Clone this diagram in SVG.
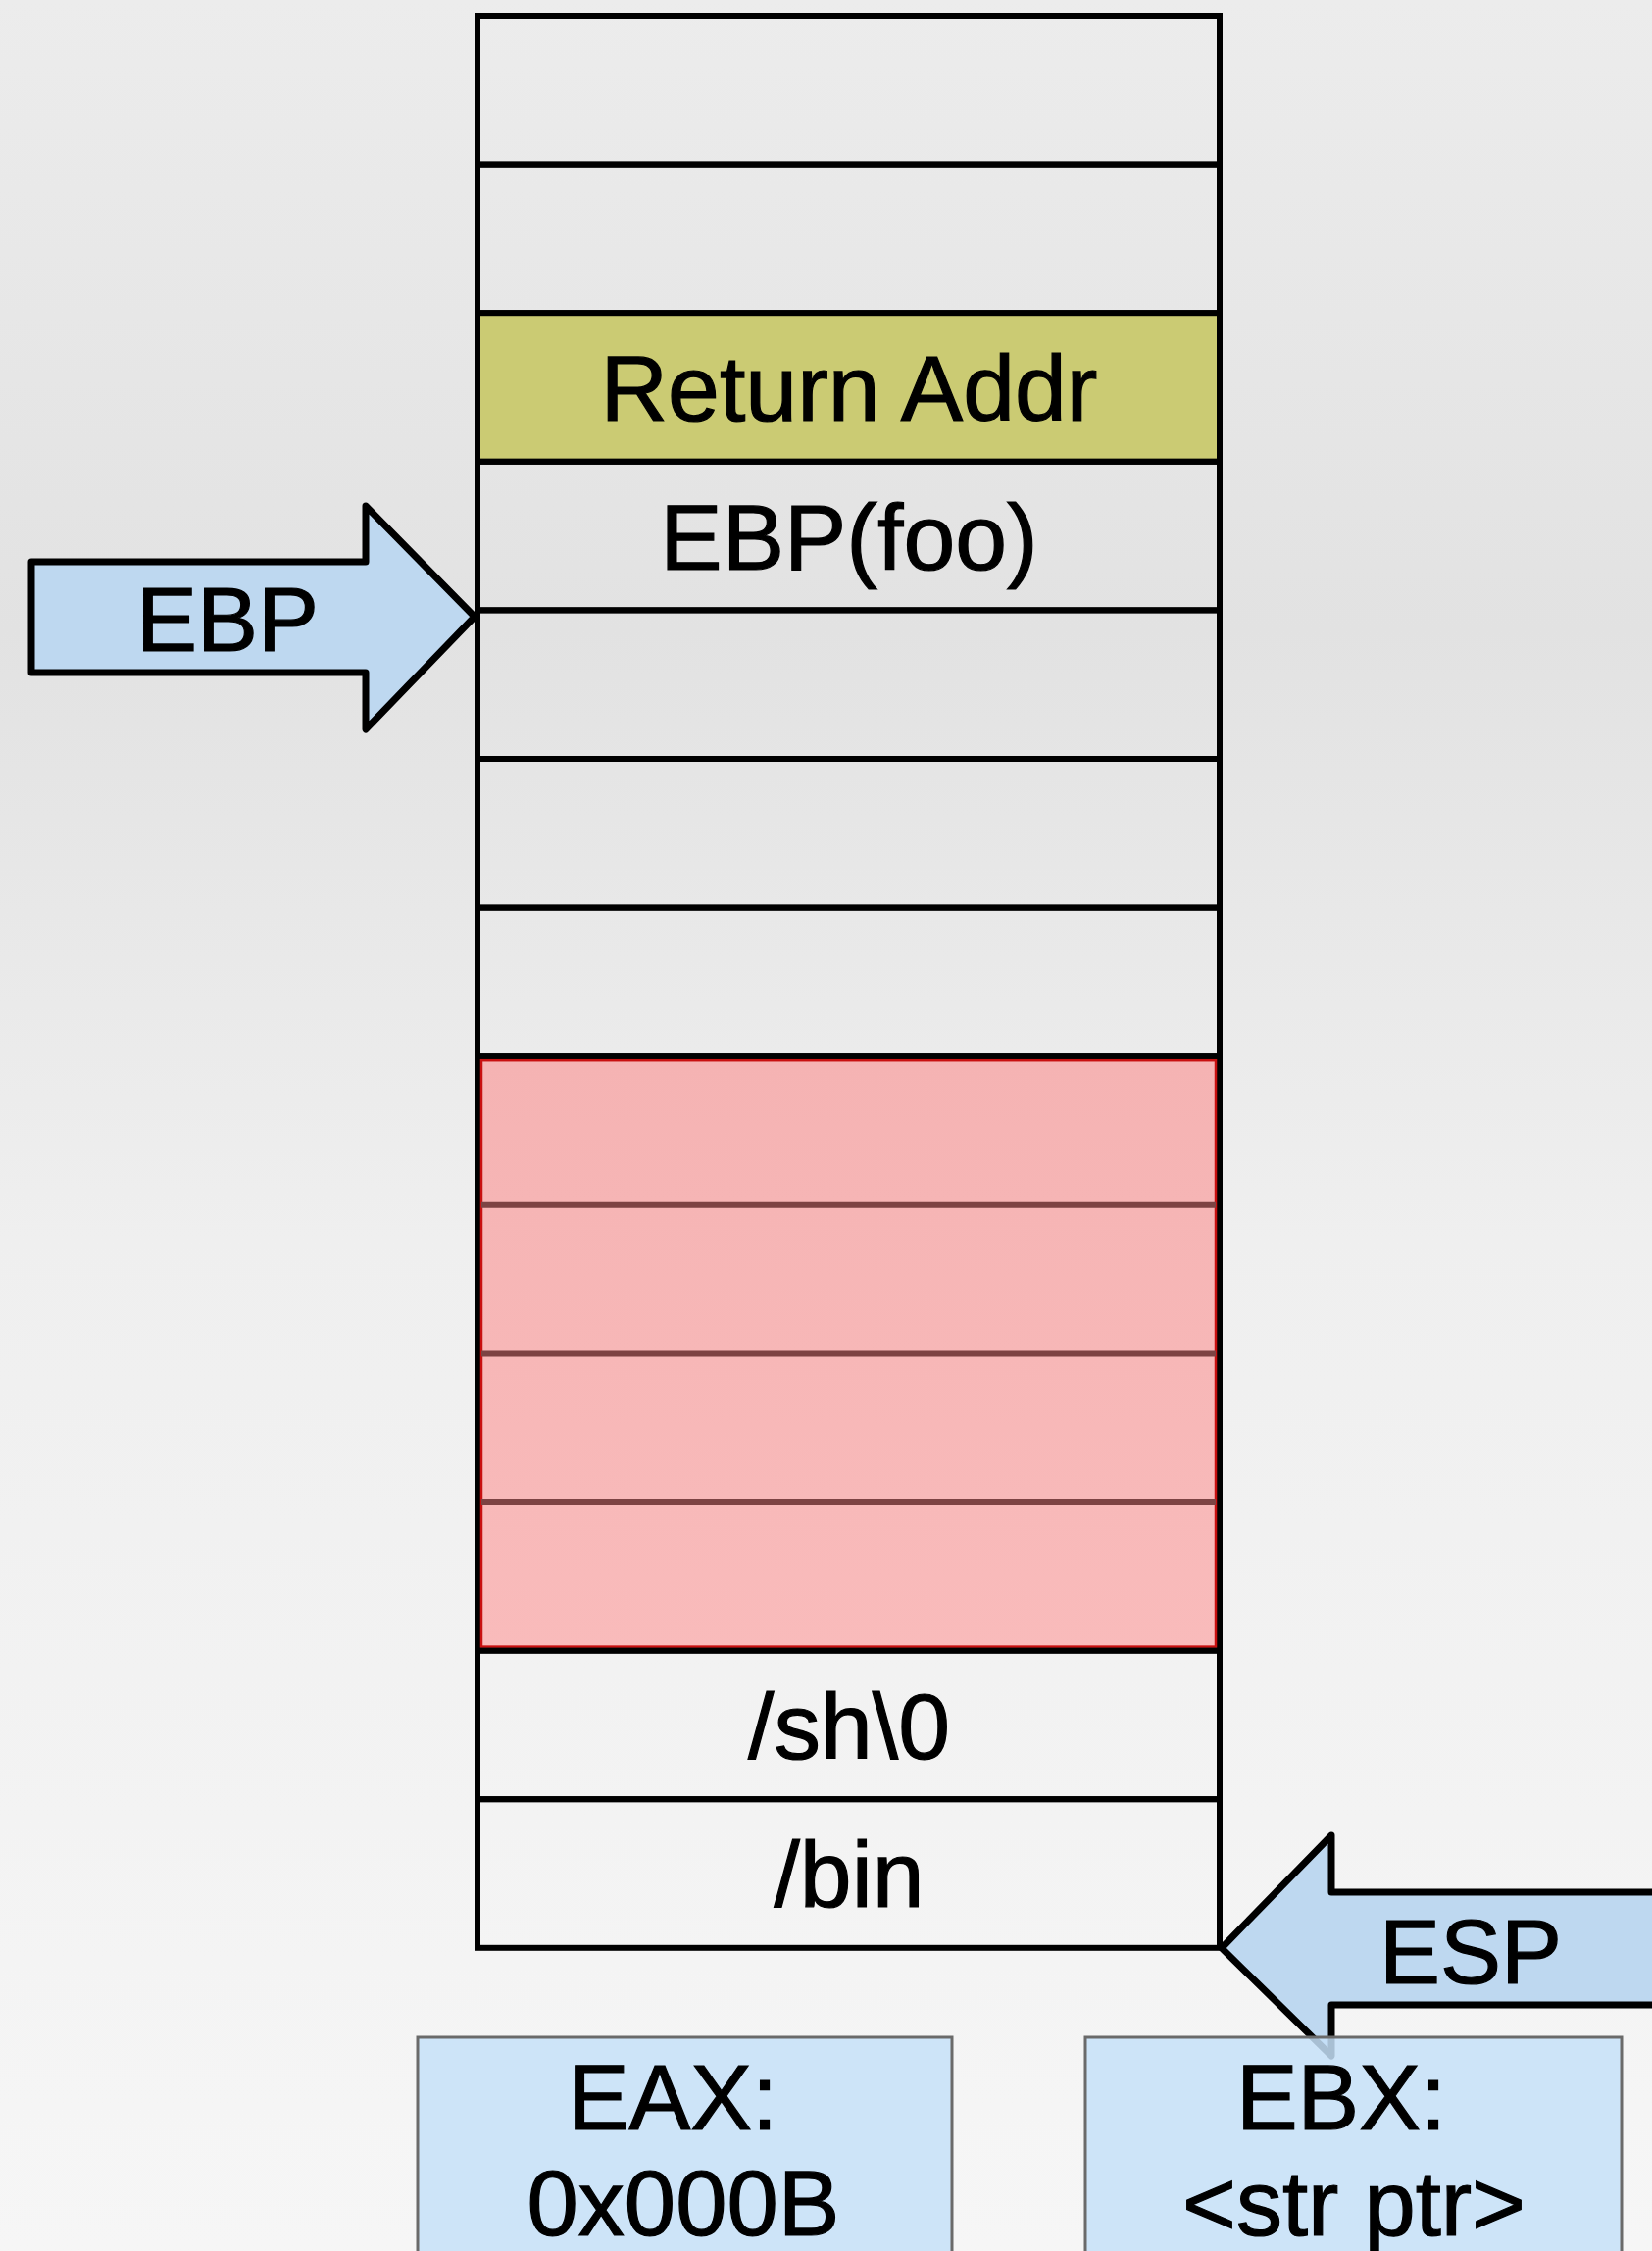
<svg xmlns="http://www.w3.org/2000/svg" width="1685" height="2296" viewBox="0 0 1685 2296">
<defs>
<linearGradient id="bg" x1="0" y1="0" x2="0" y2="1">
<stop offset="0" stop-color="#ececec"/>
<stop offset="0.28" stop-color="#e2e2e2"/>
<stop offset="0.55" stop-color="#efefef"/>
<stop offset="1" stop-color="#f6f6f6"/>
</linearGradient>
<linearGradient id="red" x1="0" y1="0" x2="0" y2="1">
<stop offset="0" stop-color="#f5b3b3"/>
<stop offset="1" stop-color="#f9bbbb"/>
</linearGradient>
</defs>
<style>
.cell{fill:none;stroke:#000;stroke-width:6}
.t{font-family:"Liberation Sans",Arial,sans-serif;font-size:95px;fill:#000;stroke:#000;stroke-width:1.2;text-anchor:middle}
.arrow{fill:#bed8f0;stroke:#000;stroke-width:7;stroke-linejoin:round}
.reg{fill:#c6e0f8;fill-opacity:0.85;stroke:#6a6a6a;stroke-width:3}
.div{stroke:#7d4343;stroke-width:6}
</style>
<rect width="1685" height="2296" fill="url(#bg)"/>
<g id="stack">
<g id="row0"><rect class="cell" x="487" y="16" width="757" height="151.6"/></g>
<g id="row1"><rect class="cell" x="487" y="167.6" width="757" height="151.6"/></g>
<g id="row2"><rect x="487" y="319.2" width="757" height="151.6" fill="#cbcb73" stroke="#000" stroke-width="6"/><text class="t" x="866" y="429">Return Addr</text></g>
<g id="row3"><rect class="cell" x="487" y="470.8" width="757" height="151.6"/><text class="t" x="866" y="581">EBP(foo)</text></g>
<g id="row4"><rect class="cell" x="487" y="622.4" width="757" height="151.6"/></g>
<g id="row5"><rect class="cell" x="487" y="774" width="757" height="151.6"/></g>
<g id="row6"><rect class="cell" x="487" y="925.6" width="757" height="151.6"/></g>
<g id="buffer">
<rect x="487" y="1077.2" width="757" height="606.4" fill="url(#red)" stroke="#000" stroke-width="6"/>
<rect x="491" y="1081.2" width="749" height="598.4" fill="none" stroke="#c81010" stroke-width="2.5"/>
<line class="div" x1="491" y1="1228.8" x2="1240" y2="1228.8"/>
<line class="div" x1="491" y1="1380.4" x2="1240" y2="1380.4"/>
<line class="div" x1="491" y1="1532" x2="1240" y2="1532"/>
</g>
<g id="row11"><rect class="cell" x="487" y="1683.6" width="757" height="151.6"/><text class="t" x="866" y="1794">/sh\0</text></g>
<g id="row12"><rect class="cell" x="487" y="1835.2" width="757" height="151.6"/><text class="t" x="866" y="1945">/bin</text></g>
</g>
<g id="connectors">
<g id="ebp-arrow">
<path class="arrow" d="M32,573 L373,573 L373,516 L484,629 L373,744 L373,686 L32,686 Z"/>
<text class="t" x="232" y="664" style="font-size:93px">EBP</text>
</g>
<g id="esp-arrow">
<path class="arrow" d="M1700,1930 L1358,1930 L1358,1872 L1246,1987 L1358,2097 L1358,2045 L1700,2045 Z"/>
<text class="t" x="1500" y="2023" style="font-size:93px">ESP</text>
</g>
</g>
<g id="eax">
<rect class="reg" x="426" y="2078" width="545" height="240"/>
<text class="t" x="686" y="2172" style="font-size:94px">EAX:</text>
<text class="t" x="697" y="2280" style="font-size:94px">0x000B</text>
</g>
<g id="ebx">
<rect class="reg" x="1107" y="2078" width="547" height="240"/>
<text class="t" x="1368" y="2172" style="font-size:94px">EBX:</text>
<text class="t" x="1381" y="2280" style="font-size:94px">&lt;str ptr&gt;</text>
</g>
</svg>
